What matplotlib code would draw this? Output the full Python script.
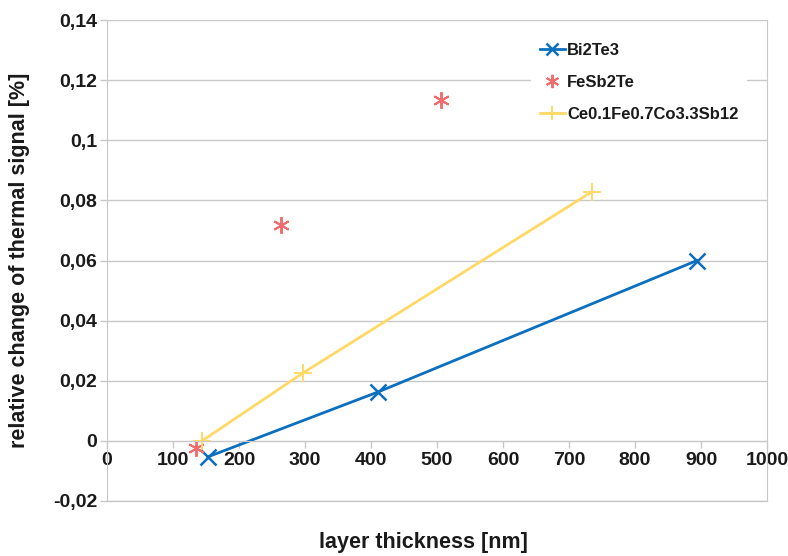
import matplotlib
matplotlib.use("Agg")
import matplotlib.pyplot as plt
from matplotlib.ticker import FuncFormatter, MultipleLocator

plt.rcParams['font.family'] = ['Liberation Sans', 'DejaVu Sans']

bi_x = [153, 411, 894]
bi_y = [-0.0053, 0.0163, 0.0600]
fe_x = [135, 264, 506]
fe_y = [-0.0023, 0.0719, 0.1135]
ce_x = [144, 297, 735]
ce_y = [0.0, 0.0226, 0.0829]

labels = ['Bi2Te3', 'FeSb2Te', 'Ce0.1Fe0.7Co3.3Sb12']
colors = ['#0b6fbf', '#f06c6c', '#ffd966']
grid_c = '#c8c8c8'
text_c = '#1a1a1a'

fig = plt.figure(figsize=(7.88, 5.56), dpi=100)
ax = fig.add_axes([107/788, 55/556, 660/788, 481/556])

ax.plot(bi_x, bi_y, color=colors[0], lw=2, marker='x', ms=11, mew=1.8, label=labels[0])
ax.plot(fe_x, fe_y, color=colors[1], marker=(6, 2, 0), ms=12, mew=1.4, label=labels[1], linestyle='none')
ax.plot(ce_x, ce_y, color=colors[2], lw=2, marker='+', ms=13, mew=1.4, label=labels[2])

ax.set_xlim(0, 1000)
ax.set_ylim(-0.02, 0.14)
ax.yaxis.set_major_locator(MultipleLocator(0.02))
ax.xaxis.set_major_locator(MultipleLocator(100))

def fmt(v, pos):
    v = round(v, 4)
    if abs(v) < 1e-9:
        return '0'
    s = f"{v:.2f}".rstrip('0').rstrip('.')
    return s.replace('.', ',')

ax.yaxis.set_major_formatter(FuncFormatter(fmt))
ax.xaxis.set_major_formatter(FuncFormatter(lambda v, p: f"{int(round(v))}"))

ax.grid(axis='y', color=grid_c, lw=1)
ax.axhline(-0.02, color=grid_c, lw=1, clip_on=False, zorder=0.5)
ax.set_axisbelow(True)
ax.spines['top'].set_visible(False)
ax.spines['right'].set_color(grid_c)
ax.spines['left'].set_color(grid_c)
ax.spines['bottom'].set_position(('data', 0))
ax.spines['bottom'].set_color(grid_c)
ax.tick_params(axis='both', colors=grid_c, length=5, width=1, labelcolor=text_c,
               labelsize=14)
ax.tick_params(axis='y', pad=2)
ax.tick_params(axis='x', pad=3)
for t in ax.get_xticklabels() + ax.get_yticklabels():
    t.set_fontweight('bold')

ax.set_xlabel('layer thickness [nm]', fontsize=15.5, fontweight='bold', color=text_c, va='center')
ax.xaxis.set_label_coords(0.480, -0.087)
ax.set_ylabel('relative change of thermal signal [%]', fontsize=15.5, fontweight='bold',
              color=text_c, va='center')
ax.yaxis.set_label_coords(-0.132, 0.5)

leg = ax.legend(loc='upper right', bbox_to_anchor=(747/788, 1 - 35/556), bbox_transform=fig.transFigure,
                frameon=True, fancybox=False,
                edgecolor='none', facecolor='white', framealpha=1, handlelength=1.5,
                prop={'weight': 'bold', 'size': 12}, labelspacing=1.0, handletextpad=0.15,
                borderpad=0.5, borderaxespad=0, markerscale=0.8)
for t in leg.get_texts():
    t.set_color(text_c)

fig.savefig('out.png', dpi=100)
